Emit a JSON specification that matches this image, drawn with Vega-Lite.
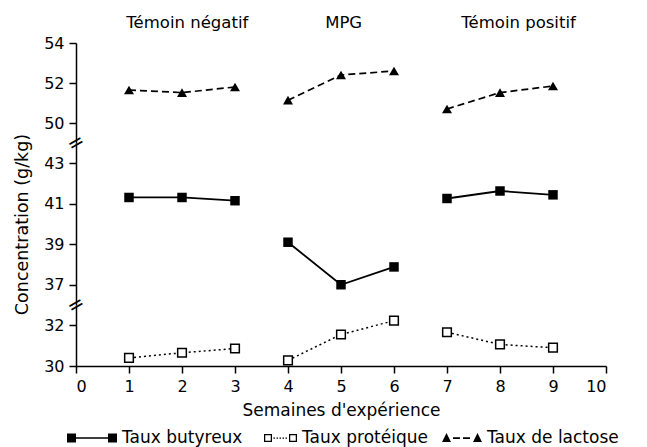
{
  "$schema": "https://vega.github.io/schema/vega-lite/v6.json",
  "padding": {"left": 13, "top": 15, "right": 5, "bottom": 5},
  "background": "white",
  "config": {
    "font": "DejaVu Sans",
    "view": {"stroke": null},
    "axis": {"domainColor": "black", "domainWidth": 1.5, "tickColor": "black", "tickWidth": 1.5, "tickSize": 7, "labelColor": "black", "labelFontSize": 16, "labelPadding": 5, "titleColor": "black", "titleFontSize": 17, "titleFontWeight": "normal", "grid": false}
  },
  "datasets": {
    "mesures": [
      {"semaine": 1, "groupe": "Témoin négatif", "serie": "Taux de lactose", "valeur": 51.65},
      {"semaine": 2, "groupe": "Témoin négatif", "serie": "Taux de lactose", "valeur": 51.52},
      {"semaine": 3, "groupe": "Témoin négatif", "serie": "Taux de lactose", "valeur": 51.8},
      {"semaine": 4, "groupe": "MPG", "serie": "Taux de lactose", "valeur": 51.14},
      {"semaine": 5, "groupe": "MPG", "serie": "Taux de lactose", "valeur": 52.4},
      {"semaine": 6, "groupe": "MPG", "serie": "Taux de lactose", "valeur": 52.6},
      {"semaine": 7, "groupe": "Témoin positif", "serie": "Taux de lactose", "valeur": 50.7},
      {"semaine": 8, "groupe": "Témoin positif", "serie": "Taux de lactose", "valeur": 51.52},
      {"semaine": 9, "groupe": "Témoin positif", "serie": "Taux de lactose", "valeur": 51.85},
      {"semaine": 1, "groupe": "Témoin négatif", "serie": "Taux butyreux", "valeur": 41.31},
      {"semaine": 2, "groupe": "Témoin négatif", "serie": "Taux butyreux", "valeur": 41.31},
      {"semaine": 3, "groupe": "Témoin négatif", "serie": "Taux butyreux", "valeur": 41.15},
      {"semaine": 4, "groupe": "MPG", "serie": "Taux butyreux", "valeur": 39.1},
      {"semaine": 5, "groupe": "MPG", "serie": "Taux butyreux", "valeur": 37.0},
      {"semaine": 6, "groupe": "MPG", "serie": "Taux butyreux", "valeur": 37.88},
      {"semaine": 7, "groupe": "Témoin positif", "serie": "Taux butyreux", "valeur": 41.26},
      {"semaine": 8, "groupe": "Témoin positif", "serie": "Taux butyreux", "valeur": 41.63},
      {"semaine": 9, "groupe": "Témoin positif", "serie": "Taux butyreux", "valeur": 41.44},
      {"semaine": 1, "groupe": "Témoin négatif", "serie": "Taux protéique", "valeur": 30.4},
      {"semaine": 2, "groupe": "Témoin négatif", "serie": "Taux protéique", "valeur": 30.65},
      {"semaine": 3, "groupe": "Témoin négatif", "serie": "Taux protéique", "valeur": 30.86},
      {"semaine": 4, "groupe": "MPG", "serie": "Taux protéique", "valeur": 30.28},
      {"semaine": 5, "groupe": "MPG", "serie": "Taux protéique", "valeur": 31.55},
      {"semaine": 6, "groupe": "MPG", "serie": "Taux protéique", "valeur": 32.23},
      {"semaine": 7, "groupe": "Témoin positif", "serie": "Taux protéique", "valeur": 31.66},
      {"semaine": 8, "groupe": "Témoin positif", "serie": "Taux protéique", "valeur": 31.06},
      {"semaine": 9, "groupe": "Témoin positif", "serie": "Taux protéique", "valeur": 30.9}
    ],
    "titres": [
      {"centre": 2.1, "titre": "Témoin négatif"},
      {"centre": 5.05, "titre": "MPG"},
      {"centre": 8.35, "titre": "Témoin positif"}
    ]
  },
  "vconcat": [
    {
      "width": 530,
      "height": 100,
      "layer": [
        {
          "data": {"name": "mesures"},
          "transform": [{"filter": "datum.serie === 'Taux de lactose'"}],
          "mark": {"type": "line", "color": "black", "strokeWidth": 1.7, "strokeDash": [7, 4]},
          "encoding": {
            "x": {"field": "semaine", "type": "quantitative", "scale": {"domain": [0, 10]}, "axis": null},
            "y": {"field": "valeur", "type": "quantitative", "scale": {"domain": [49, 54], "nice": false, "zero": false}, "axis": {"values": [50, 52, 54], "title": null}},
            "detail": {"field": "groupe"}
          }
        },
        {
          "data": {"name": "mesures"},
          "transform": [{"filter": "datum.serie === 'Taux de lactose'"}],
          "mark": {"type": "point", "shape": "triangle-up", "filled": true, "color": "black", "opacity": 1, "size": 100},
          "encoding": {
            "x": {"field": "semaine", "type": "quantitative"},
            "y": {"field": "valeur", "type": "quantitative"}
          }
        },
        {
          "data": {"name": "titres"},
          "mark": {"type": "text", "fontSize": 16.5, "color": "black", "baseline": "middle", "clip": false},
          "encoding": {
            "x": {"field": "centre", "type": "quantitative"},
            "y": {"datum": 55},
            "text": {"field": "titre"}
          }
        },
        {
          "data": {"values": [{"coupure": "="}]},
          "mark": {"type": "text", "fontSize": 20, "angle": 330, "color": "black", "baseline": "middle"},
          "encoding": {
            "x": {"datum": 0},
            "y": {"datum": 49},
            "text": {"field": "coupure"}
          }
        }
      ]
    },
    {
      "width": 530,
      "height": 162,
      "layer": [
        {
          "data": {"name": "mesures"},
          "transform": [{"filter": "datum.serie === 'Taux butyreux'"}],
          "mark": {"type": "line", "color": "black", "strokeWidth": 1.8},
          "encoding": {
            "x": {"field": "semaine", "type": "quantitative", "scale": {"domain": [0, 10]}, "axis": null},
            "y": {"field": "valeur", "type": "quantitative", "scale": {"domain": [36, 44], "nice": false, "zero": false}, "axis": {"values": [37, 39, 41, 43], "title": "Concentration (g/kg)", "titlePadding": 12, "titleFontSize": 17.5}},
            "detail": {"field": "groupe"}
          }
        },
        {
          "data": {"name": "mesures"},
          "transform": [{"filter": "datum.serie === 'Taux butyreux'"}],
          "mark": {"type": "point", "shape": "square", "filled": true, "color": "black", "opacity": 1, "size": 90},
          "encoding": {
            "x": {"field": "semaine", "type": "quantitative"},
            "y": {"field": "valeur", "type": "quantitative"}
          }
        },
        {
          "data": {"values": [{"coupure": "="}]},
          "mark": {"type": "text", "fontSize": 20, "angle": 330, "color": "black", "baseline": "middle"},
          "encoding": {
            "x": {"datum": 0},
            "y": {"datum": 36},
            "text": {"field": "coupure"}
          }
        }
      ]
    },
    {
      "width": 530,
      "height": 61,
      "layer": [
        {
          "data": {"name": "mesures"},
          "transform": [{"filter": "datum.serie === 'Taux protéique'"}],
          "mark": {"type": "line", "color": "black", "strokeWidth": 1.5, "strokeDash": [2, 3]},
          "encoding": {
            "x": {"field": "semaine", "type": "quantitative", "scale": {"domain": [0, 10]}, "axis": {"values": [0, 1, 2, 3, 4, 5, 6, 7, 8, 9, 10], "format": "d", "title": "Semaines d'expérience", "labelPadding": 5, "titlePadding": 8}},
            "y": {"field": "valeur", "type": "quantitative", "scale": {"domain": [30, 33], "nice": false, "zero": false}, "axis": {"values": [30, 32], "title": null}},
            "detail": {"field": "groupe"}
          }
        },
        {
          "data": {"name": "mesures"},
          "transform": [{"filter": "datum.serie === 'Taux protéique'"}],
          "mark": {"type": "point", "shape": "square", "filled": true, "fill": "white", "stroke": "black", "strokeWidth": 1.5, "opacity": 1, "size": 75},
          "encoding": {
            "x": {"field": "semaine", "type": "quantitative"},
            "y": {"field": "valeur", "type": "quantitative"}
          }
        },
        {
          "data": {"name": "mesures"},
          "mark": {"type": "point", "filled": true, "color": "black", "opacity": 0, "size": 1},
          "encoding": {
            "shape": {
              "field": "serie",
              "type": "nominal",
              "scale": {
                "domain": ["Taux butyreux", "Taux protéique", "Taux de lactose"],
                "range": [
                  "M-1,-0.18L-0.64,-0.18L-0.64,-0.03L0.64,-0.03L0.64,-0.18L1,-0.18L1,0.18L0.64,0.18L0.64,0.03L-0.64,0.03L-0.64,0.18L-1,0.18Z",
                  "M-0.32,-0.16L0,-0.16L0,0.16L-0.32,0.16ZM-0.27,-0.11L-0.27,0.11L-0.05,0.11L-0.05,-0.11ZM0.68,-0.16L1,-0.16L1,0.16L0.68,0.16ZM0.73,-0.11L0.73,0.11L0.95,0.11L0.95,-0.11ZM0.06,-0.025L0.12,-0.025L0.12,0.025L0.06,0.025ZM0.18,-0.025L0.24,-0.025L0.24,0.025L0.18,0.025ZM0.3,-0.025L0.36,-0.025L0.36,0.025L0.3,0.025ZM0.42,-0.025L0.48,-0.025L0.48,0.025L0.42,0.025ZM0.54,-0.025L0.6,-0.025L0.6,0.025L0.54,0.025Z",
                  "M-0.6,0.16L-0.42,-0.2L-0.24,0.16ZM-0.16,-0.035L0.12,-0.035L0.12,0.035L-0.16,0.035ZM0.24,-0.035L0.52,-0.035L0.52,0.035L0.24,0.035ZM0.64,0.16L0.82,-0.2L1,0.16Z"
                ]
              },
              "legend": {
                "title": null,
                "orient": "none",
                "direction": "horizontal",
                "legendX": -9,
                "legendY": 370,
                "symbolSize": 2500,
                "symbolFillColor": "black",
                "symbolStrokeWidth": 0,
                "symbolOpacity": 1,
                "labelFontSize": 17,
                "labelColor": "black",
                "labelOffset": 5,
                "columnPadding": 4,
                "labelLimit": 300
              }
            }
          }
        }
      ]
    }
  ],
  "spacing": 0,
  "bounds": "flush"
}
